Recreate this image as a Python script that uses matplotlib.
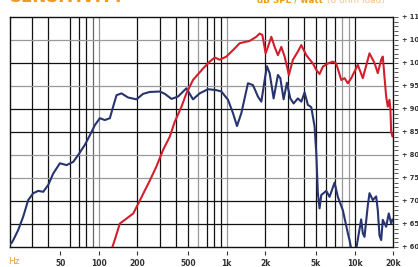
import numpy as np
import matplotlib
matplotlib.use('Agg')
import matplotlib.pyplot as plt
from matplotlib.ticker import FixedLocator, MultipleLocator, FuncFormatter

# on-axis response (blue) and the second curve (red), dB SPL / watt
blue_freq = [20, 20.8, 21.4, 23.4, 25.6, 28.0, 30.7, 33.6, 36.7, 40.2, 44.0, 49.6, 55.9, 63.0, 68.9,
             77.7, 85.1, 93.1, 101.8, 111.4, 121.9, 129.3, 137.5, 150.4, 169.4, 197, 222, 250, 300,
             328, 370, 416, 484, 545, 615, 714, 831, 909, 1024, 1120, 1204, 1302, 1467, 1605, 1756,
             1867, 1982, 2064, 2168, 2329, 2517, 2627, 2788, 2959, 3146, 3338, 3606, 3833, 4068, 4317,
             4588, 4870, 5021, 5168, 5328, 5494, 6010, 6377, 6980, 7405, 8102, 8866, 9141, 9600, 10000,
             10300, 11270, 11611, 11970, 12700, 13098, 13900, 14770, 15207, 15680, 16166, 16637, 17685,
             18530, 19347, 19810]
blue_db = [60.5, 60.9, 61.5, 63.7, 66.6, 70.2, 71.7, 72.2, 72.0, 73.5, 76.0, 78.2, 77.8, 78.5, 80.0,
           82.2, 84.3, 86.5, 88.0, 87.6, 88.0, 90.5, 93.0, 93.4, 92.5, 92.1, 93.3, 93.7, 93.8,
           93.3, 92.2, 92.7, 94.5, 92.1, 93.4, 94.3, 94.1, 93.8, 92.0, 89.1, 86.3, 89.1, 95.6, 95.2, 92.7,
           91.6, 96.3, 99.3, 97.8, 92.3, 97.4, 96.7, 92.1, 95.7, 92.3, 91.2, 92.3, 91.6, 93.6, 90.9,
           90.4, 86.2, 80.4, 71.7, 68.4, 71.3, 72.2, 70.9, 74.0, 70.9, 68.0, 63.0, 61.5, 58.5, 57.0,
           59.5, 66.0, 63.0, 62.2, 69.0, 71.7, 70.2, 71.0, 68.0, 62.5, 61.5, 65.9, 64.4,
           67.3, 65.1, 66.0]

red_freq = [126, 133, 146, 165, 186, 204, 230, 250, 282, 318, 359, 392, 443, 484, 545, 653, 737, 806,
            882, 995, 1120, 1264, 1512, 1706, 1810, 1901, 2017, 2102, 2235, 2371, 2517, 2675, 2840,
            3067, 3296, 3606, 3833, 4195, 4724, 5021, 5328, 5653, 6186, 6769, 7194, 7873, 8354, 8866,
            9424, 10612, 11611, 13098, 14330, 15207, 16166, 16637, 17152, 17685, 18202, 18764, 19106,
            19347, 19810]
red_db = [59.5, 61.5, 65.1, 66.2, 67.3, 69.5, 72.4, 74.4, 77.5, 81.1, 84.0, 87.2, 90.5, 93.4, 96.3,
          98.8, 100.3, 101.2, 100.7, 101.4, 102.8, 104.3, 104.8, 105.7, 106.4, 106.1, 102.1, 103.5,
          105.7, 103.5, 101.7, 103.5, 101.4, 97.4, 100.7, 102.5, 103.9, 101.7, 99.9, 98.5, 97.6, 99.2,
          99.9, 100.3, 99.9, 96.3, 96.7, 95.6, 96.7, 99.6, 96.7, 102.1, 100.0, 97.8, 100.7, 101.4,
          97.0, 92.7, 90.5, 92.0, 89.8, 85.1, 84.0]

grid_freq = [30, 40, 60, 70, 80, 90, 100, 200, 300, 400, 500, 600, 700, 800, 900, 1000,
             2000, 3000, 4000, 5000, 6000, 7000, 8000, 9000, 10000]
grid_freq_col = ['#111', '#111', '#111', '#111', '#111', '#666', '#999', '#111', '#111', '#111', '#111',
                 '#999', '#111', '#111', '#111', '#999', '#111', '#111', '#111', '#111', '#111', '#111',
                 '#999', '#999', '#111']
grid_db = [65, 70, 75, 80, 85, 90, 95, 100, 105]
grid_db_col = ['#111', '#111', '#999', '#999', '#111', '#111', '#999', '#111', '#999']

xtick_freq = [50, 100, 200, 500, 1000, 2000, 5000, 10000, 20000]
xtick_lab = ['50', '100', '200', '500', '1k', '2k', '5k', '10k', '20k']

W, H = 418, 267
fig = plt.figure(figsize=(W / 100, H / 100), dpi=100)
x0, x1, y0, y1 = 9.5, 393, 17, 247
ax = fig.add_axes([x0 / W, 1 - y1 / H, (x1 - x0) / W, (y1 - y0) / H])

ax.set_xscale('log')
ax.set_xlim(20, 20000)
ax.set_ylim(60, 110)
ax.tick_params(which='both', length=0, labelbottom=False, labelleft=False)
ax.xaxis.set_minor_locator(FixedLocator([]))

for f, c in zip(grid_freq, grid_freq_col):
    ax.axvline(f, color=c, lw=0.9, zorder=1)
for d, c in zip(grid_db, grid_db_col):
    ax.axhline(d, color=c, lw=0.9, zorder=1)

for s in ax.spines.values():
    s.set_color('#111')
    s.set_linewidth(1.0)

ax.plot(blue_freq, blue_db, color='#28346f', lw=1.5, zorder=3, solid_capstyle='round')
ax.plot(red_freq, red_db, color='#d31f2c', lw=1.5, zorder=3, solid_capstyle='round')

# frequency ticks, set slightly below the frame
sx = ax.secondary_xaxis(-4 / (y1 - y0))
sx.spines['bottom'].set_visible(False)
sx.xaxis.set_major_locator(FixedLocator(xtick_freq))
sx.xaxis.set_minor_locator(FixedLocator([]))
sx.set_xticklabels(xtick_lab)
sx.tick_params(length=3, width=0.8, color='#333', pad=2.5, labelsize=5.5, labelcolor='#333')
for t in sx.get_xticklabels():
    t.set_fontweight('bold')

# dB ruler on the right
sy = ax.secondary_yaxis(1 + 1.0 / (x1 - x0))
sy.spines['right'].set_visible(False)
sy.yaxis.set_major_locator(MultipleLocator(5))
sy.yaxis.set_minor_locator(MultipleLocator(1))
sy.yaxis.set_major_formatter(FuncFormatter(lambda v, p: f'+ {int(v)}'))
sy.tick_params(which='both', length=3, width=0.7, color='#555')
sy.tick_params(which='major', pad=2.5, labelsize=4.8, labelcolor='#333')
for t in sy.get_yticklabels():
    t.set_fontweight('bold')

orange = '#f29a1f'
fig.text(10 / W, 1 - 1.5 / H, 'SENSITIVITY', fontsize=12, weight='bold', color=orange, va='baseline')
fig.text(323 / W, 1 - 2.5 / H, 'dB SPL / watt', fontsize=6.3, weight='bold', color=orange,
         va='baseline', ha='right')
fig.text(327 / W, 1 - 2.5 / H, '(8 ohm load)', fontsize=6.5, color='#f5c27e', va='baseline')
fig.text(8 / W, 1 - 262 / H, 'Hz', fontsize=6.5, color='#e8a040', va='center')

fig.savefig('out.png', dpi=100)
